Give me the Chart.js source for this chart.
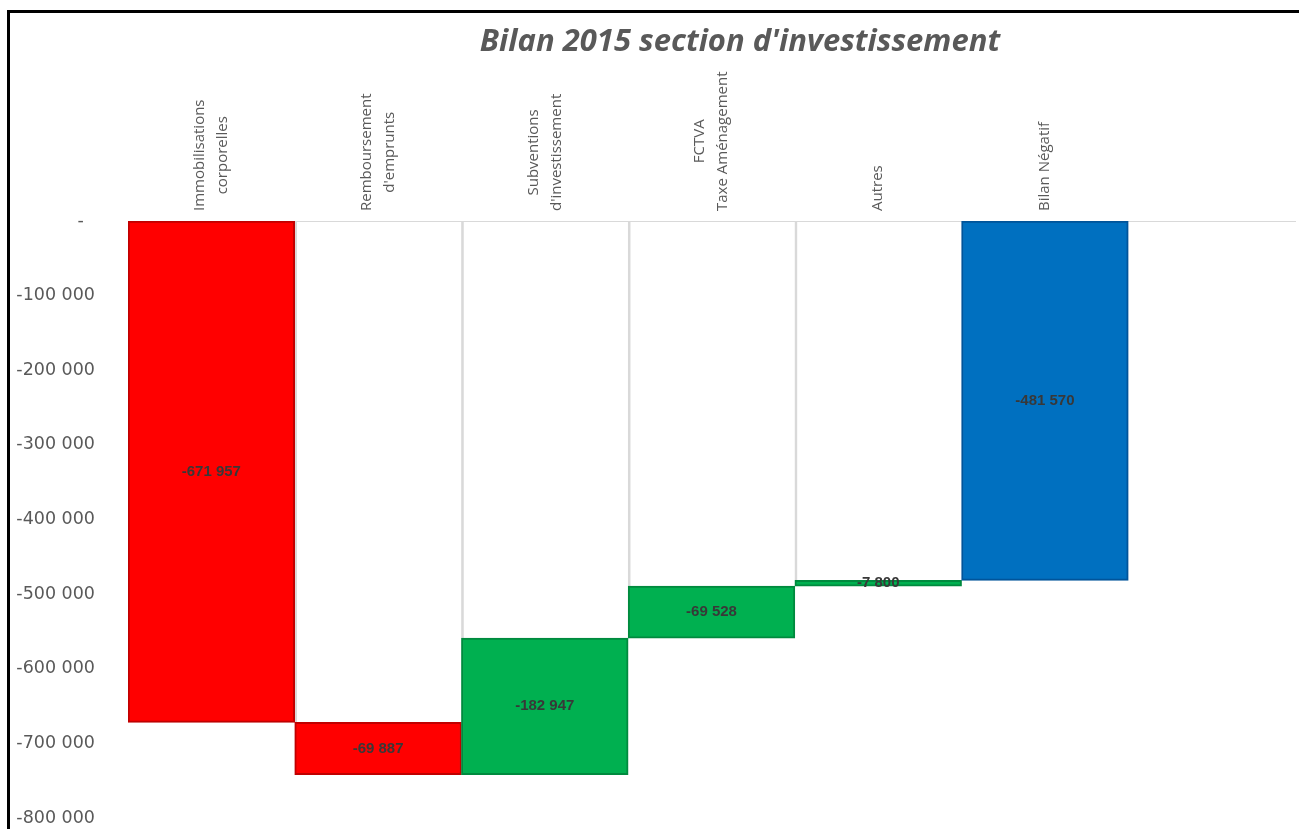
<!DOCTYPE html>
<html>
<head>
<meta charset="utf-8">
<script src="https://cdn.jsdelivr.net/npm/chart.js@4"></script>
<style>
  html, body { margin: 0; padding: 0; background: #fff; overflow: hidden; }
  #frame { position: absolute; left: 7px; top: 10px; width: 1300px; height: 830px;
           border-left: 3px solid #000; border-top: 3px solid #000; }
  #chart { position: absolute; left: 0; top: 0; }
</style>
</head>
<body>
<div id="frame"></div>
<canvas id="chart" width="1299" height="829"></canvas>
<script>
// Categories (last slot is empty, as in the original sheet)
const categories = [
    ['Immobilisations', 'corporelles'],
    ['Remboursement', "d'emprunts"],
    ['Subventions', "d'investissement"],
    ['FCTVA', 'Taxe Aménagement'],
    'Autres',
    'Bilan Négatif',
    ''
];
// Change brought by each step (first five), then the total
const steps = [-671957, -69887, 182947, 69528, 7800];
const total = -481570;
// Labels as printed on the bars
const barLabels = ['-671 957', '-69 887', '-182 947', '-69 528', '-7 800', '-481 570'];
const barColors = ['#ff0000', '#ff0000', '#00b050', '#00b050', '#00b050', '#0070c0'];
const barBorders = ['#c00000', '#c00000', '#008a3e', '#008a3e', '#008a3e', '#00549a'];
const yTicks = [-800000, -700000, -600000, -500000, -400000, -300000, -200000, -100000, 0];

// Build floating bars (waterfall) from the running total
const floating = [];
const baseBars = [];
let running = 0;
steps.forEach((s, i) => {
    const start = running;
    running += s;
    floating.push([start, running]);
    // empty base from zero to the top of the step (not for the first bar)
    baseBars.push(i === 0 ? null : [0, Math.max(start, running)]);
});
floating.push([0, total]);
baseBars.push(null);

function fmt(v) {
    if (v === 0) return '-  ';
    const n = Math.abs(v).toString().replace(/\B(?=(\d{3})+(?!\d))/g, ' ');
    return (v < 0 ? '-' : '') + n;
}

// Title drawn above the axis labels
const titlePlugin = {
    id: 'titleText',
    afterDraw(chart) {
        const ctx = chart.ctx;
        ctx.save();
        ctx.font = 'italic bold 31px "Open Sans"';
        ctx.fillStyle = '#595959';
        ctx.textAlign = 'center';
        ctx.textBaseline = 'middle';
        ctx.fillText("Bilan 2015 section d'investissement", 740, 42);
        ctx.restore();
    }
};

// Category names, rotated, lines centred on each category
const categoryPlugin = {
    id: 'categoryText',
    afterDraw(chart) {
        const ctx = chart.ctx;
        const xs = chart.scales.x;
        const lh = 23;
        ctx.save();
        ctx.font = '15px "Open Sans"';
        ctx.fillStyle = '#595959';
        ctx.textAlign = 'center';
        ctx.textBaseline = 'middle';
        categories.forEach((c, i) => {
            const lines = Array.isArray(c) ? c : [c];
            if (!lines[0]) return;
            const maxW = Math.max(...lines.map(l => ctx.measureText(l).width));
            const cx = xs.getPixelForTick(i);
            const cy = xs.bottom - 10 - maxW / 2;
            lines.forEach((l, k) => {
                ctx.save();
                ctx.translate(cx + (k - (lines.length - 1) / 2) * lh, cy);
                ctx.rotate(-Math.PI / 2);
                ctx.fillText(l, 0, 0);
                ctx.restore();
            });
        });
        ctx.restore();
    }
};

// Value labels in the middle of each bar
const labelPlugin = {
    id: 'barLabels',
    afterDatasetsDraw(chart) {
        const ctx = chart.ctx;
        const meta = chart.getDatasetMeta(0);
        ctx.save();
        ctx.font = 'bold 15px "Liberation Sans"';
        ctx.fillStyle = '#383838';
        ctx.textAlign = 'center';
        ctx.textBaseline = 'middle';
        meta.data.forEach((bar, i) => {
            if (!barLabels[i]) return;
            ctx.fillText(barLabels[i], bar.x, (bar.y + bar.base) / 2);
        });
        ctx.restore();
    }
};

const ctx = document.getElementById('chart').getContext('2d');
const myChart = new Chart(ctx, {
    type: 'bar',
    data: {
        labels: categories,
        datasets: [{
            label: 'Valeur',
            data: floating,
            backgroundColor: barColors,
            borderColor: barBorders,
            borderWidth: 2,
            borderSkipped: false,
            barPercentage: 1,
            categoryPercentage: 1,
            grouped: false
        }, {
            label: 'Base',
            data: baseBars,
            backgroundColor: 'rgba(255,255,255,0)',
            borderColor: '#d9d9d9',
            borderWidth: { left: 2, top: 0, right: 0, bottom: 0 },
            borderSkipped: false,
            barPercentage: 1,
            categoryPercentage: 1,
            grouped: false
        }]
    },
    options: {
        responsive: false,
        animation: false,
        layout: { padding: { top: 0, right: 4, bottom: 11, left: 0 } },
        plugins: {
            legend: { display: false },
            tooltip: { enabled: false }
        },
        scales: {
            x: {
                position: 'top',
                grid: { display: false },
                border: { display: true, color: '#d9d9d9', width: 1 },
                ticks: { display: false },
                afterFit(scale) {
                    scale.height = 221;
                    scale.paddingLeft = 0;
                    scale.paddingRight = 0;
                }
            },
            y: {
                min: -800000,
                max: 0,
                grid: { display: false, drawTicks: false },
                border: { display: false },
                afterBuildTicks(scale) { scale.ticks = yTicks.map(v => ({ value: v })); },
                ticks: {
                    padding: 33,
                    color: '#595959',
                    font: { family: '"DejaVu Sans"', size: 17.5 },
                    callback: v => fmt(v)
                },
                afterFit(scale) {
                    scale.width = 128;
                    scale.paddingTop = 0;
                    scale.paddingBottom = 0;
                }
            }
        }
    },
    plugins: [titlePlugin, categoryPlugin, labelPlugin]
});
</script>
</body>
</html>
